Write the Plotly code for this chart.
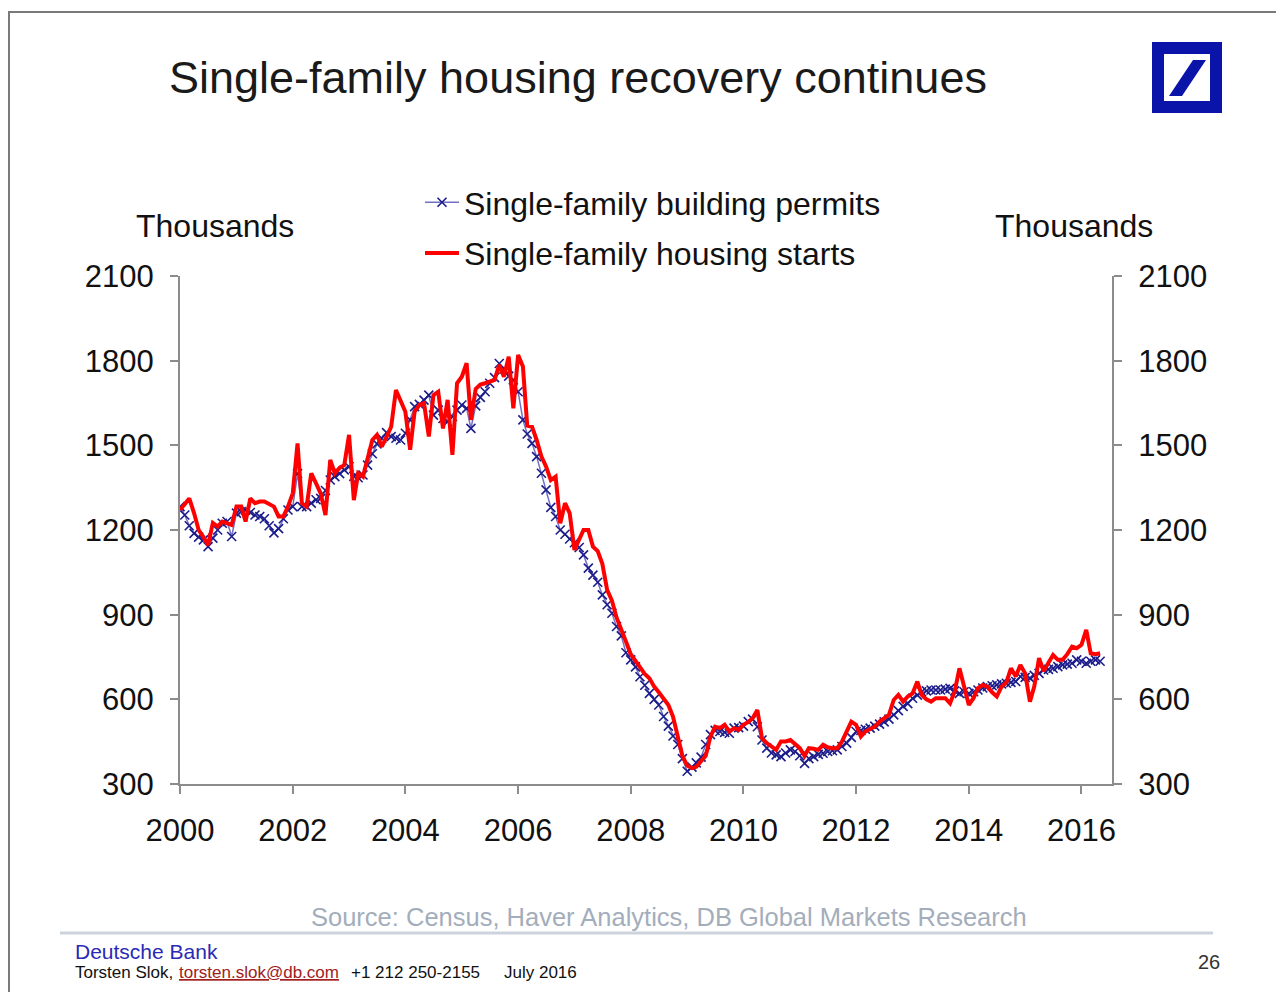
import pandas as pd
import plotly.graph_objects as go

# ---------------- data (thousands, SAAR, monthly Jan-2000 .. May-2016) ----------------
starts = [
    1271, 1290, 1312, 1260, 1200, 1175, 1147, 1225, 1212, 1230, 1225, 1218,  # 2000
    1283, 1283, 1230, 1312, 1295, 1301, 1301, 1290, 1283, 1248, 1248, 1283,  # 2001
    1330, 1507, 1295, 1283, 1401, 1365, 1330, 1253, 1448, 1401, 1420, 1430,  # 2002
    1537, 1306, 1401, 1389, 1460, 1519, 1537, 1495, 1530, 1566, 1696, 1660,  # 2003
    1619, 1484, 1620, 1643, 1649, 1531, 1678, 1690, 1560, 1661, 1466, 1720,  # 2004
    1743, 1791, 1590, 1700, 1715, 1720, 1726, 1732, 1785, 1743, 1814, 1631,  # 2005
    1820, 1779, 1570, 1566, 1519, 1460, 1425, 1377, 1389, 1224, 1295, 1260,  # 2006
    1129, 1165, 1200, 1200, 1141, 1125, 1080, 988, 950, 890, 850, 805,       # 2007
    760, 735, 716, 690, 675, 645, 625, 600, 580, 539, 460, 400,              # 2008
    365, 356, 361, 380, 400, 468, 503, 498, 510, 486, 498, 492,              # 2009
    510, 520, 533, 562, 462, 445, 433, 421, 451, 451, 456, 440,              # 2010
    427, 400, 427, 425, 421, 439, 430, 427, 427, 450, 490, 521,              # 2011
    510, 468, 486, 495, 503, 521, 533, 545, 598, 616, 592, 610,              # 2012
    621, 663, 616, 600, 592, 604, 604, 604, 586, 627, 710, 639,              # 2013
    580, 605, 640, 651, 645, 625, 610, 645, 660, 710, 681, 722,              # 2014
    692, 592, 645, 746, 700, 730, 757, 740, 740, 760, 787, 781,              # 2015
    793, 846, 763, 760, 763,                                                 # 2016
]

permits = [
    1283, 1253, 1215, 1188, 1175, 1165, 1141, 1171, 1200, 1224, 1230, 1177,  # 2000
    1260, 1265, 1270, 1262, 1253, 1248, 1240, 1215, 1190, 1205, 1240, 1271,  # 2001
    1283, 1400, 1283, 1283, 1295, 1307, 1312, 1340, 1377, 1389, 1400, 1413,  # 2002
    1424, 1390, 1385, 1395, 1430, 1470, 1505, 1525, 1545, 1531, 1525, 1519,  # 2003
    1543, 1590, 1637, 1645, 1660, 1678, 1607, 1625, 1595, 1584, 1602, 1625,  # 2004
    1643, 1631, 1560, 1640, 1670, 1690, 1720, 1740, 1790, 1770, 1745, 1732,  # 2005
    1690, 1590, 1540, 1507, 1460, 1401, 1342, 1280, 1248, 1200, 1185, 1168,  # 2006
    1155, 1138, 1112, 1065, 1040, 1015, 970, 935, 905, 858, 825, 765,        # 2007
    740, 715, 680, 650, 621, 600, 580, 539, 505, 470, 440, 390,              # 2008
    345, 360, 375, 395, 440, 475, 490, 486, 483, 480, 498, 500,              # 2009
    505, 521, 530, 503, 456, 427, 410, 403, 397, 410, 421, 415,              # 2010
    400, 373, 390, 397, 405, 409, 415, 418, 421, 433, 445, 465,              # 2011
    486, 490, 494, 498, 505, 512, 520, 530, 545, 560, 575, 585,              # 2012
    604, 615, 627, 630, 633, 633, 633, 636, 639, 630, 621, 627,              # 2013
    621, 627, 633, 640, 645, 648, 651, 655, 657, 660, 663, 681,              # 2014
    678, 675, 685, 692, 704, 706, 710, 716, 722, 725, 728, 740,              # 2015
    735, 728, 735, 740, 735,                                                 # 2016
]

start_month = "2000-01-01"
x_tick_years = [2000, 2002, 2004, 2006, 2008, 2010, 2012, 2014, 2016]
y_ticks = [300, 600, 900, 1200, 1500, 1800, 2100]

assert len(starts) == len(permits) == 197
dates = pd.date_range(start_month, periods=len(starts), freq="MS")

# ---------------- geometry helpers (page pixel -> paper) ----------------
W, H = 1284, 992
OFF = 8                      # default body margin of the html page
L, R, T, B = 180, 1112, 276, 784   # plot area in page pixels


def px(x):
    return (x - L) / (R - L)


def py(y):
    return (B - y) / (B - T)


FONT = "Liberation Sans, Arial, sans-serif"

fig = go.Figure()
fig.add_trace(go.Scatter(
    x=dates, y=permits, name="Single-family building permits",
    mode="lines+markers", yaxis="y",
    line=dict(color="#7070c4", width=1.5),
    marker=dict(symbol="x-thin", size=9, line=dict(color="#1c1c8a", width=1.6)),
    legendgroup="a",
))
fig.add_trace(go.Scatter(
    x=dates, y=starts, name="Single-family housing starts",
    mode="lines", yaxis="y2",
    line=dict(color="#ff0000", width=4),
    legendgroup="b",
))

axis_col = "#8c8c8c"
yax = dict(range=[300, 2100], tickvals=y_ticks, showgrid=False, zeroline=False,
           showline=True, linecolor=axis_col, linewidth=2, ticks="outside",
           ticklen=8, tickwidth=2, tickcolor=axis_col, fixedrange=True,
           ticklabelstandoff=10,
           tickfont=dict(family=FONT, size=31, color="#111111"))

fig.update_layout(
    width=W, height=H,
    margin=dict(l=L - OFF, r=W - (R - OFF), t=T - OFF, b=H - (B - OFF), autoexpand=False),
    paper_bgcolor="white", plot_bgcolor="white",
    showlegend=True,
    legend=dict(x=px(420), y=py(175), xanchor="left", yanchor="top",
                bgcolor="rgba(0,0,0,0)", tracegroupgap=6, itemwidth=34,
                font=dict(family=FONT, size=32, color="#111111")),
    xaxis=dict(range=["2000-01-01", "2016-07-17"],
               tickvals=[f"{y}-01-01" for y in x_tick_years],
               ticktext=[str(y) for y in x_tick_years],
               showgrid=False, zeroline=False, showline=True,
               linecolor=axis_col, linewidth=2, ticks="outside", ticklen=8,
               tickwidth=2, tickcolor=axis_col, ticklabelstandoff=10,
               tickfont=dict(family=FONT, size=31, color="#111111")),
    yaxis=dict(side="left", **yax),
    yaxis2=dict(side="right", overlaying="y", anchor="x", **yax),
)

# ---------------- text ----------------
ann = [
    dict(text="Single-family housing recovery continues", x=px(578), y=py(77),
         font=dict(size=45, color="#1a1a1a")),
    dict(text="Thousands", x=px(215), y=py(226), font=dict(size=32, color="#111111")),
    dict(text="Thousands", x=px(1074), y=py(226), font=dict(size=32, color="#111111")),
    dict(text="Source: Census, Haver Analytics, DB Global Markets Research",
         x=px(669), y=py(917), font=dict(size=25.5, color="#a3adbb")),
    dict(text="Deutsche Bank", x=px(73), y=py(951), xanchor="left",
         font=dict(size=21, color="#2a2ab4")),
    dict(text="Torsten Slok,", x=px(73), y=py(972), xanchor="left",
         font=dict(size=17, color="#111111")),
    dict(text="<u>torsten.slok@db.com</u>", x=px(177), y=py(972), xanchor="left",
         font=dict(size=17, color="#a02020")),
    dict(text="+1 212 250-2155", x=px(349), y=py(972), xanchor="left",
         font=dict(size=17, color="#111111")),
    dict(text="July 2016", x=px(502), y=py(972), xanchor="left",
         font=dict(size=17, color="#111111")),
    dict(text="26", x=px(1209), y=py(962), font=dict(size=20, color="#333333")),
]
for a in ann:
    a.setdefault("xanchor", "center")
    a["font"]["family"] = FONT
    fig.add_annotation(xref="paper", yref="paper", showarrow=False, yanchor="middle", **a)

# ---------------- decorative shapes ----------------
shapes = [
    # page frame
    dict(type="rect", x0=px(9), x1=px(1282), y0=py(1100), y1=py(12),
         line=dict(color="#7a7a7a", width=2), fillcolor="rgba(0,0,0,0)"),
    # separator under source
    dict(type="line", x0=px(60), x1=px(1213), y0=py(933), y1=py(933),
         line=dict(color="#cdd3dd", width=3)),
    # logo
    dict(type="rect", x0=px(1152), x1=px(1222), y0=py(113), y1=py(42),
         line=dict(width=0), fillcolor="#0a14a8"),
    dict(type="rect", x0=px(1164), x1=px(1210), y0=py(101), y1=py(54),
         line=dict(width=0), fillcolor="white"),
    dict(type="path",
         path=(f"M {px(1169)} {py(96)} L {px(1182)} {py(96)} L {px(1206)} {py(60)} "
               f"L {px(1193)} {py(60)} Z"),
         line=dict(width=0), fillcolor="#0a14a8"),
]
for s in shapes:
    fig.add_shape(xref="paper", yref="paper", layer="above", **s)

fig.write_html("out.html")
